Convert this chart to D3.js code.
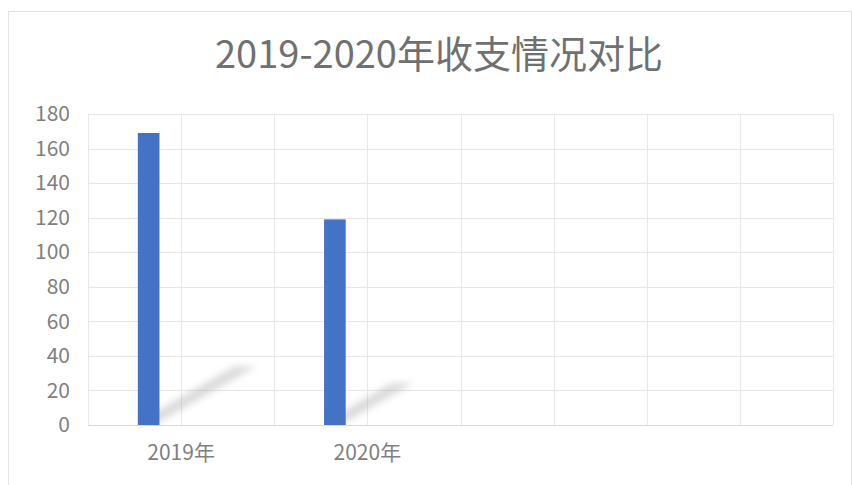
<!DOCTYPE html>
<html>
<head>
<meta charset="utf-8">
<script src="https://cdn.jsdelivr.net/npm/d3@7"></script>
<style>
  body { margin: 0; background: #fff; }
  svg { display: block; font-family: "Noto Sans CJK SC", "Noto Sans", sans-serif; }
</style>
</head>
<body>
<svg id="chart"></svg>
<script>
// chart data
const categories = ['2019年', '2020年', '', ''];
const values = [169, 119];
const yTicks = [0, 20, 40, 60, 80, 100, 120, 140, 160, 180];
const slotCount = 4; // bar slots per category (only the first one is filled)

const width = 853;
const height = 485;
const margin = { top: 114, right: 20, bottom: 60, left: 88 };
const plotW = 833 - margin.left;
const plotH = 425 - margin.top;

const svg = d3.select('#chart')
  .attr('width', width)
  .attr('height', height);

// outer chart border
svg.append('rect')
  .attr('x', 8.5).attr('y', 11.5)
  .attr('width', 843).attr('height', 490)
  .attr('fill', 'none')
  .attr('stroke', '#e3e3e3');

svg.append('text')
  .attr('x', 439)
  .attr('y', 68)
  .attr('text-anchor', 'middle')
  .attr('fill', '#707070')
  .style('font-size', '38px')
  .text('2019-2020年收支情况对比');

const defs = svg.append('defs');
defs.append('filter').attr('id', 'blur')
  .attr('x', '-50%').attr('y', '-50%').attr('width', '200%').attr('height', '200%')
  .append('feGaussianBlur').attr('stdDeviation', 3.5);

const g = svg.append('g')
  .attr('transform', `translate(${margin.left},${margin.top})`);

const x = d3.scaleBand().domain(categories.map((c, i) => i)).range([0, plotW]);
const slot = d3.scaleBand().domain(d3.range(slotCount)).range([0, x.bandwidth()]).paddingOuter(2.3).paddingInner(0);
const y = d3.scaleLinear().domain([0, 180]).range([plotH, 0]);

// horizontal gridlines
g.append('g')
  .selectAll('line')
  .data(yTicks)
  .join('line')
  .attr('x1', 0).attr('x2', plotW)
  .attr('y1', d => Math.round(y(d)) + 0.5).attr('y2', d => Math.round(y(d)) + 0.5)
  .attr('stroke', d => d === 0 ? '#d9d9d9' : '#e6e6e6');

// vertical gridlines, two per category
const vLines = d3.range(categories.length * 2 + 1).map(i => i * x.bandwidth() / 2);
g.append('g')
  .selectAll('line')
  .data(vLines)
  .join('line')
  .attr('x1', d => Math.round(d) + 0.5).attr('x2', d => Math.round(d) + 0.5)
  .attr('y1', 0).attr('y2', plotH)
  .attr('stroke', '#e8e8e8');

// y axis labels
const yAxis = g.append('g')
  .call(d3.axisLeft(y).tickValues(yTicks).tickSize(0).tickPadding(18));
yAxis.select('.domain').remove();
yAxis.selectAll('text')
  .attr('fill', '#808080')
  .style('font-size', '21px')
  .style('font-family', '"Noto Sans CJK SC", sans-serif');

// x axis labels
const xAxis = g.append('g')
  .attr('transform', `translate(0,${plotH})`)
  .call(d3.axisBottom(x).tickFormat(i => categories[i]).tickSize(0).tickPadding(20));
xAxis.select('.domain').remove();
xAxis.selectAll('text')
  .attr('fill', '#808080')
  .style('font-size', '21px')
  .style('font-family', '"Noto Sans CJK SC", sans-serif');

// perspective shadows
g.append('g')
  .selectAll('path')
  .data(values)
  .join('path')
  .attr('d', (v, i) => {
    const x0 = x(i) + slot(0);
    const x1 = x0 + slot.bandwidth();
    const h = plotH - y(v);
    const dx = h * 0.33, dy = h * 0.19;
    return `M${x0},${plotH - 3} L${x1},${plotH - 3} L${x1 + dx},${plotH - 3 - dy} L${x0 + dx},${plotH - 3 - dy} Z`;
  })
  .attr('fill', '#a0a0a0')
  .attr('opacity', 0.38)
  .attr('filter', 'url(#blur)');

// bars
g.append('g')
  .selectAll('rect')
  .data(values)
  .join('rect')
  .attr('x', (v, i) => x(i) + slot(0))
  .attr('y', v => y(v))
  .attr('width', slot.bandwidth())
  .attr('height', v => plotH - y(v))
  .attr('fill', '#4472c4');
</script>
</body>
</html>
